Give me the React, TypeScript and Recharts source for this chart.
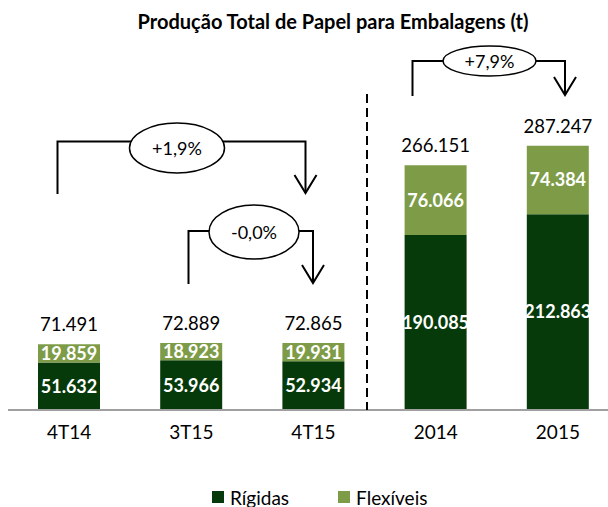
import { BarChart, Bar, XAxis, YAxis, Legend, LabelList } from 'recharts';

const categories = ['4T14', '3T15', '4T15', '2014', '2015'];
const rigidas = [51632, 53966, 52934, 190085, 212863];
const flexiveis = [19859, 18923, 19931, 76066, 74384];

const DARK = '#073a0a';
const LIGHT = '#7e9c47';
const FONT = 'Lato, "Open Sans", sans-serif';

const data = categories.map((cat, i) => ({
  cat,
  rigidas: rigidas[i],
  flexiveis: flexiveis[i],
  total: rigidas[i] + flexiveis[i],
}));

// 51632 -> "51.632"
const fmt = (v: number) => String(v).replace(/\B(?=(\d{3})+(?!\d))/g, '.');

function LegendBox() {
  const item = (color: string, label: string, ml: number) => (
    <div style={{ display: 'flex', alignItems: 'center', marginLeft: ml }}>
      <span style={{ width: 12, height: 12, background: color, marginRight: 6 }} />
      <span style={{ fontSize: 19, color: '#000' }}>{label}</span>
    </div>
  );
  return (
    <div style={{ display: 'flex', alignItems: 'center', paddingLeft: 212, fontFamily: FONT, height: 22 }}>
      {item(DARK, 'Rígidas', 0)}
      {item(LIGHT, 'Flexíveis', 49)}
    </div>
  );
}

// brackets with the variation bubbles
function Bracket({ x1, x2, y, yEnd1, yEnd2, cx, cy, rx, ry, text }: any) {
  return (
    <g>
      <polyline points={`${x1},${yEnd1} ${x1},${y} ${x2},${y} ${x2},${yEnd2}`} fill="none" stroke="#000" strokeWidth={2} />
      <polyline points={`${x2 - 11},${yEnd2 - 18} ${x2},${yEnd2} ${x2 + 11},${yEnd2 - 18}`} fill="none" stroke="#000" strokeWidth={2} />
      <ellipse cx={cx} cy={cy} rx={rx} ry={ry} fill="#fff" stroke="#000" strokeWidth={1.5} />
      <text x={cx} y={cy} textAnchor="middle" dominantBaseline="central" fontSize={18} fontFamily={FONT} fill="#000">
        {text}
      </text>
    </g>
  );
}

export default function App() {
  return (
    <div style={{ position: 'absolute', top: 0, left: 0, width: 608, height: 507, overflow: 'hidden', background: '#fff', fontFamily: FONT }}>
      <div style={{ position: 'absolute', top: 9, left: 116, width: 434, textAlign: 'center', fontWeight: 700, fontSize: 20, color: '#000', whiteSpace: 'nowrap' }}>
        Produção Total de Papel para Embalagens (t)
      </div>

      <BarChart width={619} height={507} data={data} margin={{ top: 134, right: 0, left: 8, bottom: 35 }}>
        <XAxis
          dataKey="cat"
          axisLine={{ stroke: '#a0a0a0', strokeWidth: 2 }}
          tickLine={false}
          tickMargin={10}
          height={40}
          tick={{ fontSize: 19, fill: '#000', fontFamily: FONT }}
        />
        <YAxis hide domain={[0, 300000]} />
        <Legend
          verticalAlign="bottom"
          content={() => <LegendBox />}
          wrapperStyle={{ top: 486, bottom: 'auto', left: 0, width: 608, height: 22 }}
        />
        <Bar dataKey="rigidas" name="Rígidas" stackId="a" fill={DARK} barSize={62} isAnimationActive={false}>
          <LabelList dataKey="rigidas" position="center" formatter={(v: any) => fmt(v)} fill="#fff" fontSize={18} fontWeight={700} fontFamily={FONT} />
        </Bar>
        <Bar dataKey="flexiveis" name="Flexíveis" stackId="a" fill={LIGHT} barSize={62} isAnimationActive={false}>
          <LabelList dataKey="flexiveis" position="center" formatter={(v: any) => fmt(v)} fill="#fff" fontSize={18} fontWeight={700} fontFamily={FONT} />
          <LabelList dataKey="total" position="top" offset={13} formatter={(v: any) => fmt(v)} fill="#000" fontSize={18.5} fontFamily={FONT} />
        </Bar>
      </BarChart>

      <svg width={608} height={507} style={{ position: 'absolute', top: 0, left: 0, pointerEvents: 'none' }}>
        <line x1={367} y1={94} x2={367} y2={410} stroke="#000" strokeWidth={2} strokeDasharray="9 5" />
        <Bracket x1={57.5} x2={305.5} y={141.5} yEnd1={194} yEnd2={193} cx={177} cy={148} rx={47.5} ry={25} text="+1,9%" />
        <Bracket x1={188.5} x2={313} y={231} yEnd1={284} yEnd2={283} cx={254} cy={232} rx={45} ry={27} text="-0,0%" />
        <Bracket x1={412.5} x2={565} y={61} yEnd1={96} yEnd2={95} cx={489.5} cy={61} rx={46.5} ry={15} text="+7,9%" />
      </svg>
    </div>
  );
}
